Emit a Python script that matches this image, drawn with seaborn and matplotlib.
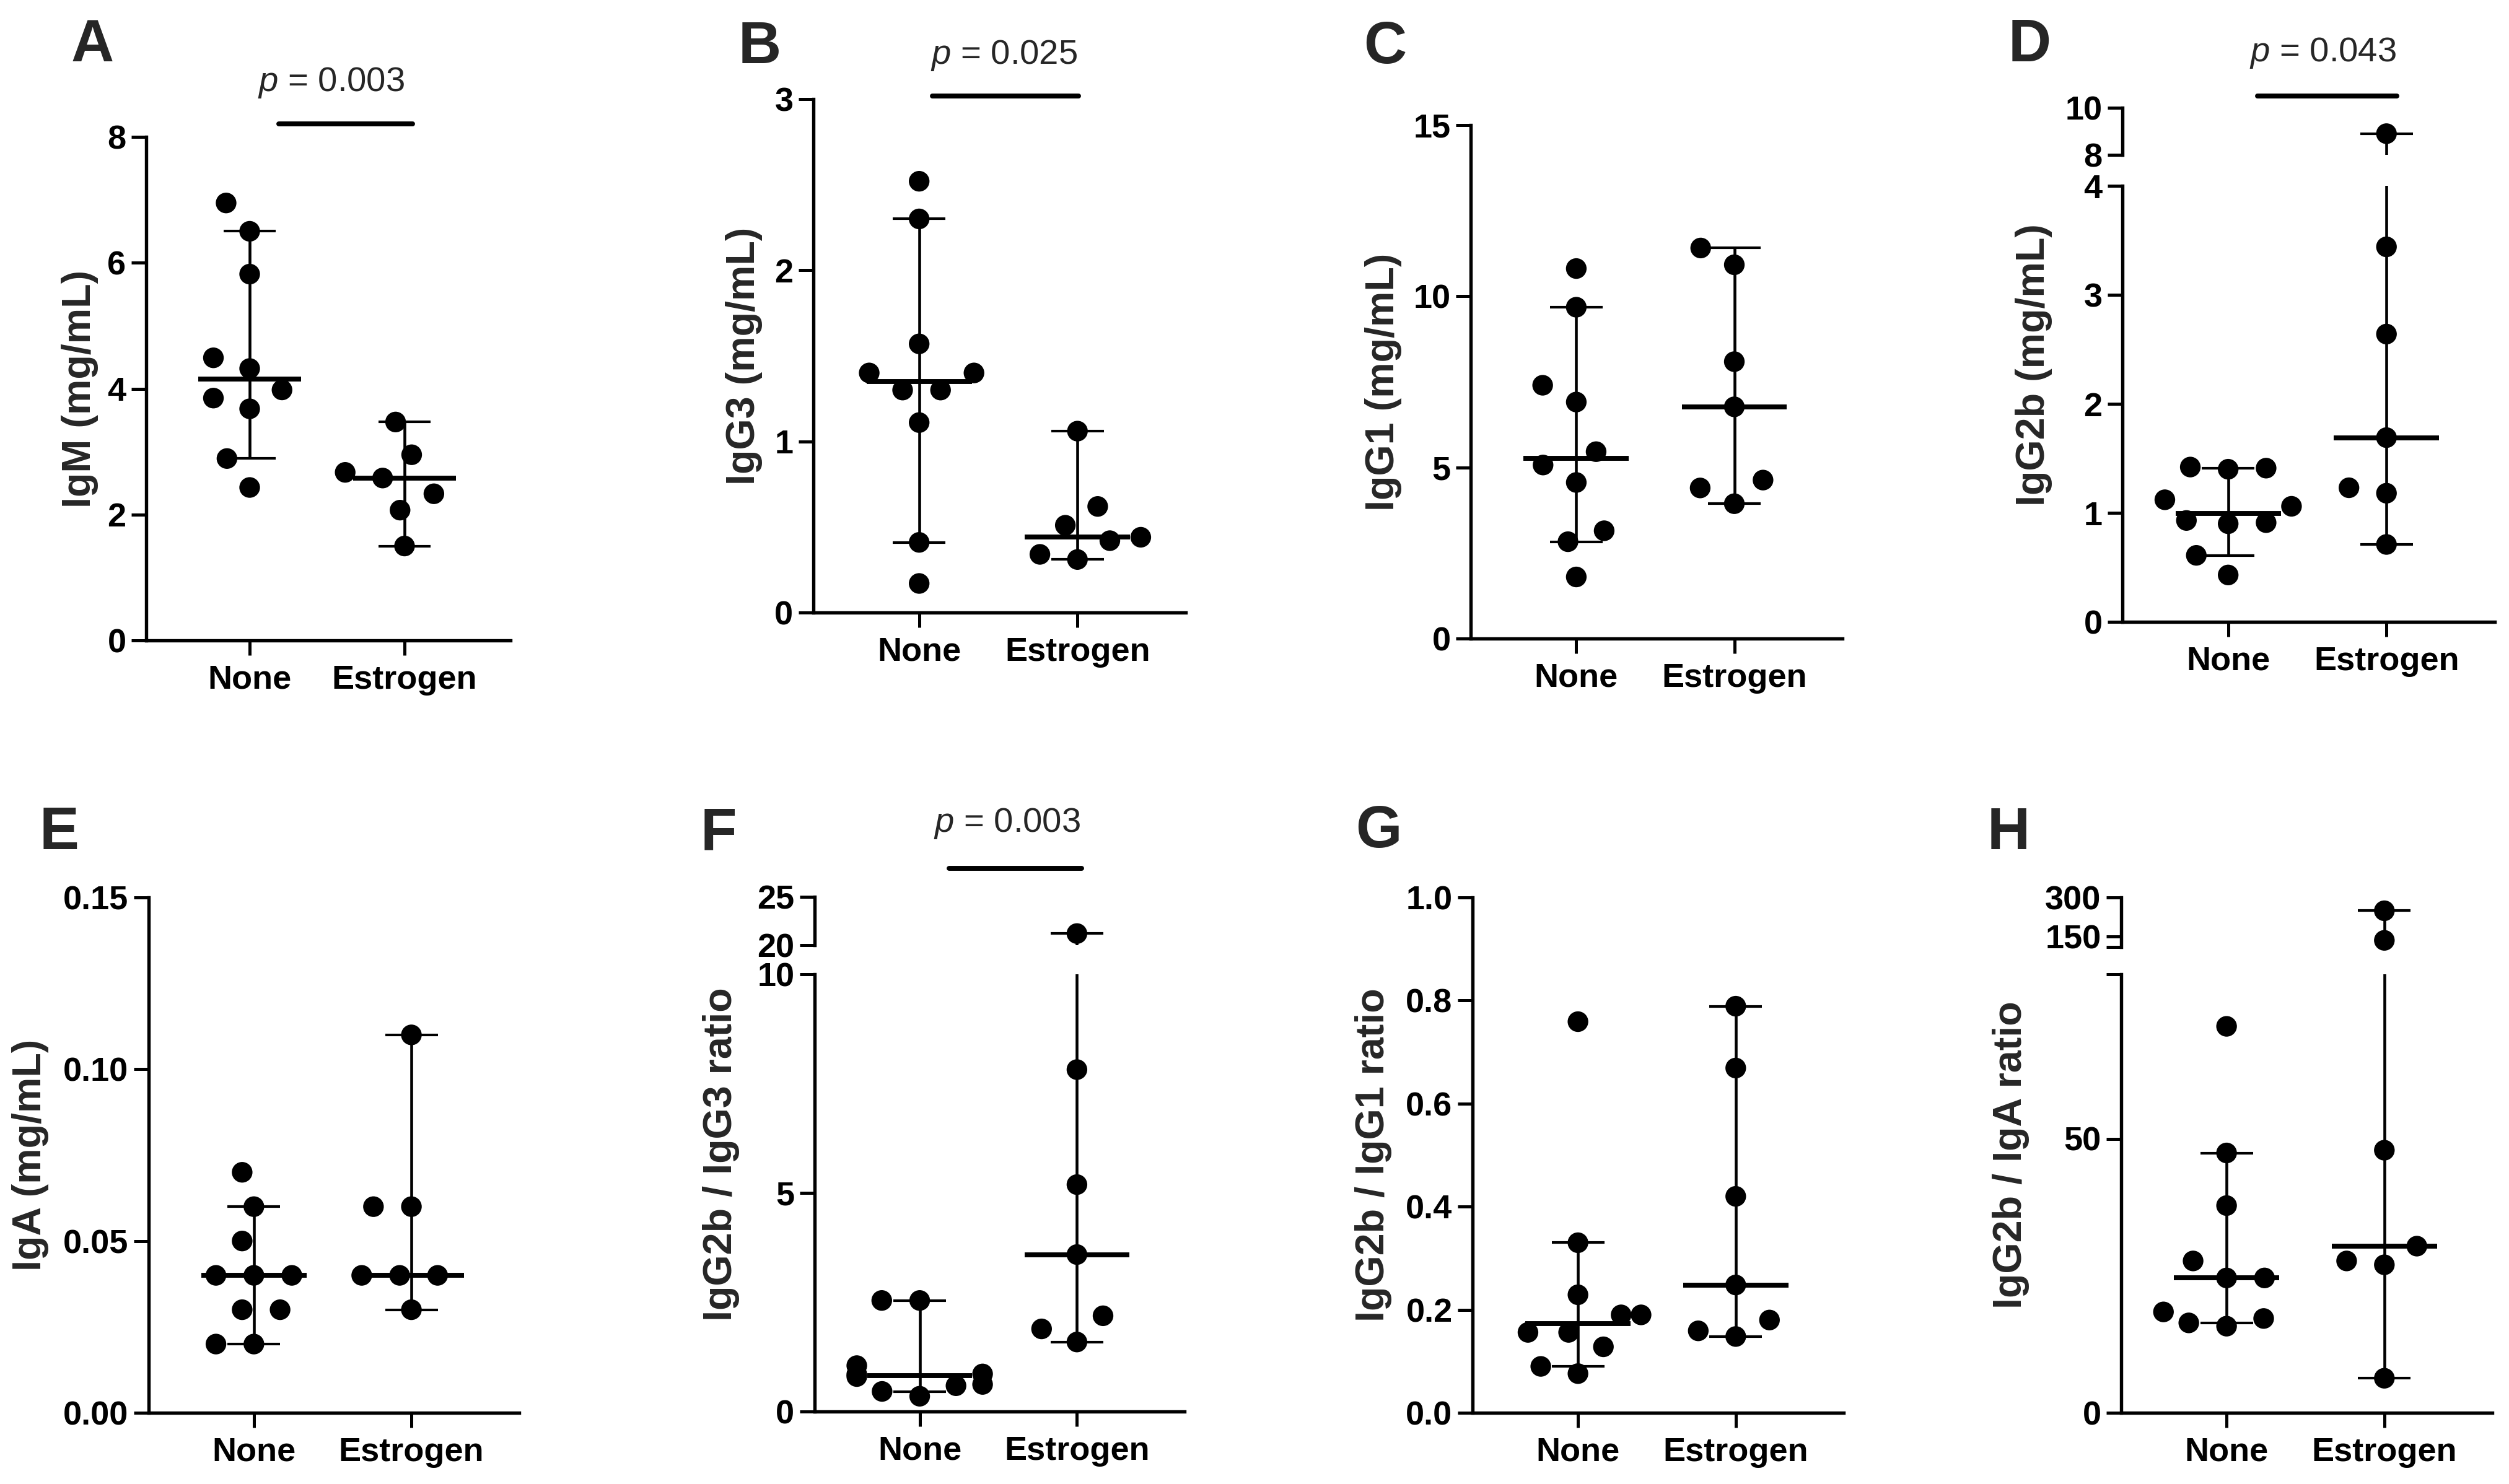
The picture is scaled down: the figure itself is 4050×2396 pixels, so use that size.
import numpy as np
import pandas as pd
import matplotlib
matplotlib.use("Agg")
import matplotlib.pyplot as plt
import seaborn as sns
from math import comb

# ---- data ----
groups = ["None", "Estrogen"]

igm_none = [6.95, 6.50, 5.82, 4.49, 4.32, 3.98, 3.85, 3.68, 2.89, 2.43]
igm_estr = [3.47, 2.95, 2.67, 2.58, 2.33, 2.07, 1.50]

igg3_none = [2.52, 2.30, 1.57, 1.40, 1.40, 1.30, 1.30, 1.11, 0.41, 0.17]
igg3_estr = [1.06, 0.62, 0.51, 0.44, 0.42, 0.34, 0.31]

igg1_none = [10.81, 9.68, 7.40, 6.91, 5.46, 5.07, 4.56, 3.15, 2.83, 1.80]
igg1_estr = [11.41, 10.92, 8.09, 6.77, 4.63, 4.40, 3.94]

igg2b_none = [1.42, 1.41, 1.40, 1.12, 1.06, 0.93, 0.91, 0.90, 0.61, 0.43]
igg2b_estr = [8.9, 3.44, 2.64, 1.69, 1.23, 1.18, 0.71]

iga_none = [0.07, 0.06, 0.05, 0.04, 0.04, 0.04, 0.03, 0.03, 0.02, 0.02]
iga_estr = [0.11, 0.06, 0.06, 0.04, 0.04, 0.04, 0.03]

g2b_g3_none = [2.54, 2.54, 1.05, 0.86, 0.85, 0.80, 0.62, 0.59, 0.46, 0.35]
g2b_g3_estr = [21.2, 7.82, 5.19, 3.59, 2.19, 1.89, 1.59]

g2b_g1_none = [0.759, 0.33, 0.229, 0.19, 0.19, 0.156, 0.156, 0.128, 0.09, 0.076]
g2b_g1_estr = [0.789, 0.669, 0.42, 0.248, 0.18, 0.159, 0.148]

g2b_iga_none = [70.5, 47.4, 37.8, 27.7, 24.6, 24.6, 18.4, 17.2, 16.4, 15.8]
g2b_iga_estr = [249, 135.5, 47.9, 30.4, 27.7, 27.0, 6.3]

# ---- layout (pixel boxes in the 4050x2396 canvas) ----
W, H, DPI = 4050, 2396, 300
DOT = 8.0        # marker diameter, pt
SPREAD = 6.0     # extra spacing used by the swarm layout, pt
CAP, MED = 0.167, 0.333
XLIM = (-0.668, 1.684)

panels = [
    dict(letter="A", letter_xy=(115, 99), data=(igm_none, igm_estr), ylabel="IgM (mg/mL)", ylabel_x=129,
         box=(236, 824, 221, 1034), ylim=(0, 8), ticks=[0, 2, 4, 6, 8], labels=["0", "2", "4", "6", "8"],
         p=("0.003", (450, 666, 200), (535, 147))),
    dict(letter="B", letter_xy=(1192, 102), data=(igg3_none, igg3_estr), ylabel="IgG3 (mg/mL)", ylabel_x=1201,
         box=(1313, 1914, 160, 989), ylim=(0, 3), ticks=[0, 1, 2, 3], labels=["0", "1", "2", "3"],
         p=("0.025", (1505, 1741, 155), (1621, 103))),
    dict(letter="C", letter_xy=(2201, 102), data=(igg1_none, igg1_estr), ylabel="IgG1 (mg/mL)", ylabel_x=2233,
         box=(2374, 2974, 202, 1031), ylim=(0, 15), ticks=[0, 5, 10, 15], labels=["0", "5", "10", "15"]),
    dict(letter="D", letter_xy=(3242, 99), data=(igg2b_none, igg2b_estr), ylabel="IgG2b (mg/mL)", ylabel_x=3283,
         box=(3426, 4027, 300, 1004), ylim=(0, 4), ticks=[0, 1, 2, 3, 4], labels=["0", "1", "2", "3", "4"],
         upper=dict(box=(3426, 4027, 174, 250), ylim=(8, 10), ticks=[8, 10], labels=["8", "10"]),
         p=("0.043", (3644, 3869, 155), (3750, 99))),
    dict(letter="E", letter_xy=(64, 1371), data=(iga_none, iga_estr), ylabel="IgA (mg/mL)", ylabel_x=49,
         box=(240, 838, 1449, 2281), ylim=(0, 0.15), ticks=[0, 0.05, 0.10, 0.15],
         labels=["0.00", "0.05", "0.10", "0.15"]),
    dict(letter="F", letter_xy=(1131, 1371), data=(g2b_g3_none, g2b_g3_estr), ylabel="IgG2b / IgG3 ratio",
         ylabel_x=1164, box=(1315, 1912, 1573, 2279), ylim=(0, 10), ticks=[0, 5, 10], labels=["0", "5", "10"],
         upper=dict(box=(1315, 1912, 1448, 1526), ylim=(20, 25), ticks=[20, 25], labels=["20", "25"]),
         p=("0.003", (1532, 1746, 1402), (1626, 1343))),
    dict(letter="G", letter_xy=(2188, 1368), data=(g2b_g1_none, g2b_g1_estr), ylabel="IgG2b / IgG1 ratio",
         ylabel_x=2217, box=(2377, 2976, 1449, 2281), ylim=(0, 1.0), ticks=[0, 0.2, 0.4, 0.6, 0.8, 1.0],
         labels=["0.0", "0.2", "0.4", "0.6", "0.8", "1.0"]),
    dict(letter="H", letter_xy=(3208, 1371), data=(g2b_iga_none, g2b_iga_estr), ylabel="IgG2b / IgA ratio",
         ylabel_x=3246, box=(3424, 4023, 1573, 2281), ylim=(0, 80), ticks=[0, 50, 80], labels=["0", "50", ""],
         upper=dict(box=(3424, 4023, 1449, 1529), ylim=(110, 300), ticks=[110, 150, 300],
                    labels=["", "150", "300"])),
]

sns.set_theme(style="ticks")
plt.rcParams["font.family"] = ["Liberation Sans", "DejaVu Sans"]
plt.rcParams["font.weight"] = "bold"
plt.rcParams["mathtext.fontset"] = "custom"
plt.rcParams["mathtext.it"] = "Liberation Sans:style=italic:weight=normal"
plt.rcParams["mathtext.rm"] = "Liberation Sans:weight=normal"
plt.rcParams["axes.linewidth"] = 1.3


def fx(px):
    return px / W


def fy(py):
    return 1 - py / H


def rect(box):
    x0, x1, y0, y1 = box
    return [fx(x0), fy(y1), (x1 - x0) / W, (y1 - y0) / H]


def ci_rank(n, alpha=0.05):
    # rank of the lower limit of the ~95% CI of the median (binomial method)
    cum, k = 0.0, 0
    while cum + comb(n, k) / 2 ** n <= alpha / 2:
        cum += comb(n, k) / 2 ** n
        k += 1
    return max(k, 1)


def draw_segment(ax, df, ylim, spread):
    shown = df[df["value"].between(*ylim)]
    sns.swarmplot(data=shown, x="group", y="value", order=groups, color="black",
                  size=DOT, linewidth=spread, edgecolor="none", ax=ax, zorder=3)
    # dots are not cut at the axis edge; drop empty groups so nothing lands at the origin
    for coll in list(ax.collections):
        if len(coll.get_offsets()) == 0:
            coll.remove()
        else:
            coll.set_clip_on(False)
    for i, g in enumerate(groups):
        v = np.sort(df.loc[df["group"] == g, "value"].to_numpy())
        k = ci_rank(len(v))
        lo, hi, med = v[k - 1], v[len(v) - k], np.median(v)
        ax.vlines(i, lo, hi, color="black", lw=1.1, zorder=2)
        ax.hlines([lo, hi], i - CAP, i + CAP, color="black", lw=1.0, zorder=2)
        ax.hlines(med, i - MED, i + MED, color="black", lw=1.9, zorder=4)


def style(ax, ylim, ticks, labels, bottom=True):
    ax.set_xlim(*XLIM)
    ax.set_ylim(*ylim)
    ax.set_yticks(ticks)
    ax.set_yticklabels(labels)
    ax.set_xlabel("")
    ax.set_ylabel("")
    sns.despine(ax=ax, bottom=not bottom)
    ax.tick_params(axis="both", direction="out", length=5.8, width=1.2, color="black",
                   labelsize=13, labelcolor="black")
    ax.tick_params(axis="y", pad=2)
    ax.tick_params(axis="x", pad=3.5)
    for lab in ax.get_xticklabels() + ax.get_yticklabels():
        lab.set_fontweight("bold")
    for s in ax.spines.values():
        s.set_color("black")
    ax.set_facecolor("none")
    if not bottom:
        ax.tick_params(axis="x", bottom=False, labelbottom=False)


fig = plt.figure(figsize=(W / DPI, H / DPI), dpi=DPI)

for pan in panels:
    none_vals, estr_vals = pan["data"]
    df = pd.DataFrame({
        "group": ["None"] * len(none_vals) + ["Estrogen"] * len(estr_vals),
        "value": list(none_vals) + list(estr_vals),
    })

    ax = fig.add_axes(rect(pan["box"]))
    draw_segment(ax, df, pan["ylim"], SPREAD)
    style(ax, pan["ylim"], pan["ticks"], pan["labels"])
    ax.set_xticks([0, 1])
    ax.set_xticklabels(groups, fontweight="bold")

    top_px = pan["box"][2]
    if "upper" in pan:
        up = pan["upper"]
        axu = fig.add_axes(rect(up["box"]))
        draw_segment(axu, df, up["ylim"], 0)
        style(axu, up["ylim"], up["ticks"], up["labels"], bottom=False)
        top_px = up["box"][2]

    ymid = (top_px + pan["box"][3]) / 2
    fig.text(fx(pan["ylabel_x"]), fy(ymid), pan["ylabel"], rotation=90, ha="center", va="center",
             fontsize=15.5, fontweight="bold")
    lx, ly = pan["letter_xy"]
    fig.text(fx(lx), fy(ly), pan["letter"], ha="left", va="baseline", fontsize=23, fontweight="bold")

    if "p" in pan:
        ptxt, (bx0, bx1, by), (tx, ty) = pan["p"]
        fig.add_artist(plt.Line2D([fx(bx0), fx(bx1)], [fy(by), fy(by)], color="black", lw=1.9,
                                  transform=fig.transFigure))
        fig.text(fx(tx), fy(ty), r"$p$ = " + ptxt, ha="center", va="baseline", fontsize=13.5,
                 fontweight="normal")

fig.savefig("out.png", dpi=DPI, facecolor="white")
